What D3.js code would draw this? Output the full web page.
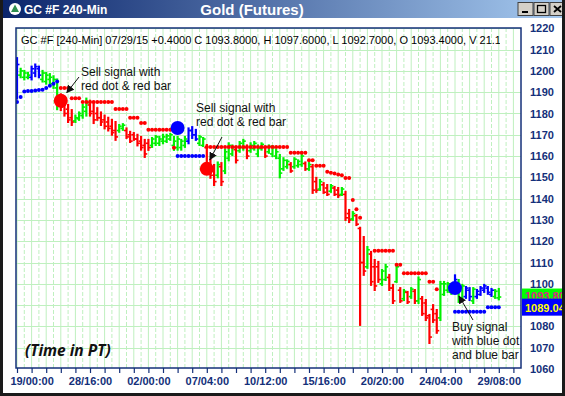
<!DOCTYPE html>
<html>
<head>
<meta charset="utf-8">
<script src="https://cdn.jsdelivr.net/npm/d3@7"></script>
<style>
  body { margin: 0; background: #fff; }
  svg { display: block; font-family: "Liberation Sans", Arial, sans-serif; }
</style>
</head>
<body>
<script>
// Bar data (4-hour OHLC bars, one entry per bar)
const highs = [1206,1201,1200,1199,1202,1203,1202,1200,1199,1198.5,1197.5,1196,
  1189,1186,1184,1181.6,1179,1180.5,1184,1187,1186,1185,1182.5,1180.5,1179,1178,1177,1176,
  1174.6,1175,1173,1171.4,1170.8,1170,1169,1167.6,1167.6,1168.5,1169.5,1169,1170,1170,1170.4,1169,1169,1167.6,1169,
  1173,1173.6,1172.3,1169.5,1168.5,1165.2,1158.2,1155.8,1157,1156.7,1163,1166,1165,
  1164,1166.6,1167.6,1165,1166,1166.6,1165,1166,1164.3,1165,
  1164.7,1163,1160.5,1159,1158,1156.7,1159,1158,1160.5,1157,
  1156.7,1155.8,1149.8,1148.8,1147.3,1146.4,1146.4,1145.5,1145,1145,
  1143.2,1134.7,1133.7,1132.3,1126.3,1122,1117.3,1115,1111.2,1110.3,
  1106.5,1108.9,1104.2,1099.5,1108.9,1098,1097.1,1096.2,1098,1097.1,
  1103,1093.8,1092.4,1085.4,1090,1087.7,1100.9,1100.9,1100.4,1100,
  1104,1101.8,1099.5,1098.5,1098,1098,1097.1,1098.5,1099.5,1098.5,
  1097.6,1097.1,1097.6];
const lows = [1187,1197,1196,1196.5,1196,1197.5,1197,1195,1194,1194,1192,1182,
  1181.6,1179,1176,1174.6,1176,1177,1178,1179,1179,1175.5,1177,1174.6,1173,1172,1170,1167.6,
  1171.4,1172.3,1168.5,1166.6,1167.6,1165,1163,1159.6,1162.9,1164.3,1165.2,1165.2,1166,1166.6,1167.6,1162.9,1163,1163,1164.3,
  1166,1168.5,1167.6,1165.2,1164.7,1152.6,1149.8,1146.4,1150,1146.4,1152,1158,1160.5,
  1157,1162,1163,1159,1162,1163,1160,1163,1159.6,1161.5,
  1160,1159,1150,1153.5,1154.5,1152.6,1154.5,1155,1155.4,1153.5,
  1153.5,1142.7,1143.2,1144.1,1142.7,1141.7,1143.2,1141.7,1140.8,1141.7,
  1130,1129,1130,1127.6,1080.7,1104.2,1107.5,1099.5,1097.1,1100.9,
  1099.5,1101.8,1097.1,1091,1100.9,1091.5,1092.4,1091,1093.4,1091,
  1091,1085.4,1083,1072.2,1082.1,1077,1083,1094.8,1096.2,1095.3,
  1096,1091.5,1092.4,1093.4,1092.4,1091,1093.4,1094.8,1096.2,1095.3,
  1094.3,1093.4,1092.7];
const opens = [1190,1198,1197,1197,1197,1199,1201,1196,1195,1196,1194,1192,
  1186,1184,1182,1178,1176.5,1177.5,1179,1181,1184,1181,1180,1178,1177,1176,1174,1172,
  1172,1173,1172,1170,1170,1168,1167,1165,1166,1165,1166,1166,1167,1167,1168,1165,1164,1164,1165,
  1167,1172,1170,1166,1165,1164,1156,1153,1151,1155,1153,1159,1161,
  1163,1162.5,1164,1164,1162.5,1163.5,1161,1163.5,1164,1162,
  1161,1160,1159,1154,1155,1156,1155,1155.5,1156,1156.5,
  1154,1155,1148,1144.5,1146.5,1145,1143.5,1145,1144,1142,
  1142,1133,1130.5,1132,1126,1110,1108,1114,1108,1108,
  1100,1102,1103,1098,1101,1097,1093,1096,1094,1096.5,
  1092,1093,1091,1085,1088,1086,1084,1095,1097,1096,
  1097,1099,1093,1094,1097,1092,1094,1095,1097,1098,
  1095,1094,1093.4];
const closes = [1203,1200,1199,1198,1201,1202,1198,1199,1198,1197,1196,1184,
  1183,1180,1177,1176,1178,1180,1183,1185,1180,1177,1178,1176,1174,1173,1171,1169,
  1174,1174.5,1169,1167,1168,1166,1164,1161,1164,1168,1169,1168,1169,1169.5,1170,1167,1168,1167,1168,
  1172,1170,1168,1169,1168,1154,1151,1148,1156,1148,1162,1165,1164,
  1158,1166,1167,1160,1165,1166,1164,1165.5,1160,1164.5,
  1164,1162,1152,1158,1157.5,1153,1158.5,1157.5,1160,1154,
  1156,1144,1144,1148,1143,1142,1146,1142,1141.5,1144.5,
  1131,1130,1133,1128,1110,1106,1116,1101,1099,1102,
  1106,1108,1098,1092,1108,1092,1096.5,1091.5,1097.5,1092,
  1102,1086,1084,1075,1083,1078,1100,1100,1100,1099.5,
  1102,1093,1099,1098,1094,1097.5,1096.5,1098,1099,1096,
  1097,1096.5,1093.8];
// bar colour: g = up, r = sell mode, b = buy mode
const barColors = ("bgggbbbggggg" + "rrrr" + "gggg" + "rrrrrrrr" + "gg" + "rrrrrrr" +
  "gggggggggg" + "bbb" + "gg" + "rrr" + "grggg" + "rggrggggrg" + "gggggrgggr" +
  "grrgrrgrrg" + "rrgrrrgrrr" + "ggrrgrgrgr" + "grrrrrgggg" + "bggbbgbbbb" + "bgg").split("");

// trailing stop dots (null = no dot)
const redStops = [null,null,null,null,null,null,null,null,null,null,null,null,
  1192,1192,1192,1187.2,1187.2,1187.2,
  1185.4,1185.4,1185.4,1185.4,1185.4,1185.4,1185.4,1185.4,1185.4,
  1182.1,1182.1,1182.1,1182.1,1178,1178,1178,1175.5,1175.5,
  1172.3,1172.3,1172.3,1172.3,1172.3,1172.3,1172.3,1163.9,
  null,null,null,null,null,null,null,null,
  1164.3,1164.3,1164.3,1164.3,1164.3,1164.3,1164.3,1164.3,1164.3,1164.3,1164.3,1164.3,
  1164.3,1164.3,1164.3,1164.3,1164.3,1164.3,1164.3,1164.3,1164.3,1164.3,1164.3,
  1161.5,1161.5,1161.5,1161.5,1161.5,1158,1158,1155.4,1155.4,1155.4,
  1152.6,1152.2,1151.8,1151.4,1151,1149.7,1149.7,1139.4,1135,1131,
  null,null,null,
  1115.5,1115.5,1115.5,1115.5,1115.5,1115.5,1109,1109,
  1105,1105,1105,1105,1105,1105,1105,1101,1101,1097.5,
  null,null,null,null,null,null,null,null,null,null,null,null,null,null,null,null,null];
const blueStops = [1185.4,1187.7,1190.3,1190.5,1190.6,1190.8,1191,1191.2,1192,1193,1194,1195,
  null,null,null,null,null,null,null,null,null,null,null,null,null,null,null,null,
  null,null,null,null,null,null,null,null,null,null,null,null,null,null,null,null,
  1160,1160,1160,1160,1160,1160,1160,1160,
  null,null,null,null,null,null,null,null,null,null,null,null,null,null,null,null,null,
  null,null,null,null,null,null,null,null,null,null,null,null,null,null,null,null,null,
  null,null,null,null,null,null,null,null,null,null,null,null,null,null,null,null,null,
  null,null,null,null,null,null,null,null,null,null,null,null,null,null,null,null,null,
  1086.9,1086.9,1086.9,1086.9,1086.9,1086.9,1086.9,1086.9,1086.9,
  1089.04,1089.04,1089.04,1089.04];

// signals
const sellIdx = [12, 52];
const sellPx = [1186, 1154];
const buyIdx = [44, 120];
const buyPx = [1173.2, 1098];

// axis labels (1090 sits under the price boxes, so it gets no label)
const xLabels = ["19/00:00","28/16:00","02/00:00","07/04:00","10/12:00","15/16:00","20/20:00","24/04:00","29/08:00"];
const xLabelIdx = [4, 20, 36, 52, 68, 84, 100, 116, 132];
const yTicks = [1060,1070,1080,1090,1100,1110,1120,1130,1140,1150,1160,1170,1180,1190,1200,1210,1220];
const yLabelTicks = [1060,1070,1080,1100,1110,1120,1130,1140,1150,1160,1170,1180,1190,1200,1210,1220];
const lastClose = 1093.8;
const lastStop = 1089.04;

const W = 565, H = 396;
const plot = {left: 16, right: 521, top: 28, bottom: 368};
const navy = "#14307a";
const colorMap = {g: "#00f000", r: "#ff0000", b: "#0000ff"};

const svg = d3.select("body").append("svg")
    .attr("width", W)
    .attr("height", H);

svg.append("rect").attr("width", W).attr("height", H).attr("fill", "#fff");

const x = d3.scaleLinear().domain([0, 132]).range([17, 498.8]);
const y = d3.scaleLinear().domain([1060, 1220]).range([369, 28.3]);

const defs = svg.append("defs");
defs.append("clipPath").attr("id", "plotClip").append("rect")
    .attr("x", plot.left).attr("y", plot.top)
    .attr("width", plot.right - plot.left).attr("height", plot.bottom - plot.top);
defs.append("clipPath").attr("id", "headClip").append("rect")
    .attr("x", plot.left).attr("y", plot.top).attr("width", 484).attr("height", 30);
// only the top strip of the close-price box shows above the stop box
defs.append("clipPath").attr("id", "closeClip").append("rect")
    .attr("x", 522).attr("y", y(lastClose) - 8.5).attr("width", 45).attr("height", y(lastStop) - y(lastClose));

const grad = defs.append("linearGradient").attr("id", "titleGrad");
grad.append("stop").attr("offset", "0%").attr("stop-color", "#0a246a");
grad.append("stop").attr("offset", "100%").attr("stop-color", "#a6caf0");

const arrow = defs.append("marker").attr("id", "arrowHead")
    .attr("viewBox", "0 0 10 10").attr("refX", 9).attr("refY", 5)
    .attr("markerWidth", 8).attr("markerHeight", 8)
    .attr("markerUnits", "userSpaceOnUse").attr("orient", "auto");
arrow.append("path").attr("d", "M0,0 L10,5 L0,10 z").attr("fill", "#111");

// grid
const grid = svg.append("g").attr("clip-path", "url(#plotClip)");
grid.selectAll(".vgrid")
    .data(d3.range(0, 137, 2))
    .enter().append("line")
    .attr("x1", d => x(d)).attr("x2", d => x(d))
    .attr("y1", plot.top).attr("y2", plot.bottom)
    .attr("stroke", "#bff0bf")
    .attr("stroke-dasharray", d => d % 4 ? "4,2" : null);
grid.selectAll(".hgrid")
    .data(yTicks)
    .enter().append("line")
    .attr("x1", plot.left).attr("x2", plot.right)
    .attr("y1", d => Math.round(y(d)) + 0.5).attr("y2", d => Math.round(y(d)) + 0.5)
    .attr("stroke", "#bff0bf");

// header text
svg.append("text")
    .attr("clip-path", "url(#headClip)")
    .attr("x", 21).attr("y", 44)
    .attr("font-size", 11)
    .attr("fill", "#000")
    .text("GC #F [240-Min] 07/29/15  +0.4000 C 1093.8000, H 1097.6000, L 1092.7000, O 1093.4000, V 21.1000");

// bars
const chart = svg.append("g").attr("clip-path", "url(#plotClip)");
const bars = chart.selectAll(".bar")
    .data(highs.map((h, i) => i))
    .enter().append("g")
    .attr("stroke", i => colorMap[barColors[i]]);
bars.append("line")
    .attr("x1", i => x(i)).attr("x2", i => x(i))
    .attr("y1", i => y(highs[i]) - 1).attr("y2", i => y(lows[i]) + 1)
    .attr("stroke-width", 2.2);
bars.append("line")
    .attr("x1", i => x(i) - 2.5).attr("x2", i => x(i))
    .attr("y1", i => y(opens[i])).attr("y2", i => y(opens[i]))
    .attr("stroke-width", 1.6);
bars.append("line")
    .attr("x1", i => x(i)).attr("x2", i => x(i) + 2.5)
    .attr("y1", i => y(closes[i])).attr("y2", i => y(closes[i]))
    .attr("stroke-width", 1.6);

// stop dots
chart.selectAll(".rstop")
    .data(redStops.map((v, i) => [i, v]).filter(d => d[1] !== null))
    .enter().append("circle")
    .attr("cx", d => x(d[0])).attr("cy", d => y(d[1]))
    .attr("r", 2).attr("fill", "#ff0000");
chart.selectAll(".bstop")
    .data(blueStops.map((v, i) => [i, v]).filter(d => d[1] !== null))
    .enter().append("circle")
    .attr("cx", d => x(d[0])).attr("cy", d => y(d[1]))
    .attr("r", 2).attr("fill", "#0000ff");

// signal dots
chart.selectAll(".sell")
    .data(sellIdx)
    .enter().append("circle")
    .attr("cx", (d, k) => x(d)).attr("cy", (d, k) => y(sellPx[k]))
    .attr("r", 7).attr("fill", "#ff0000");
chart.selectAll(".buy")
    .data(buyIdx)
    .enter().append("circle")
    .attr("cx", (d, k) => x(d)).attr("cy", (d, k) => y(buyPx[k]))
    .attr("r", 7).attr("fill", "#0000ff");

// annotations
const notes = [
  {lines: ["Sell signal with", "red dot & red bar"], tx: 81, ty: 76, from: [79, 77], to: [x(sellIdx[0]) + 6, y(sellPx[0]) - 8]},
  {lines: ["Sell signal with", "red dot & red bar"], tx: 196, ty: 112, from: [222, 137], to: [x(sellIdx[1]) + 3, y(sellPx[1]) - 9]},
  {lines: ["Buy signal", "with blue dot", "and blue bar"], tx: 452, ty: 331, from: [473, 320], to: [x(buyIdx[1]) + 4, y(buyPx[1]) + 8]}
];
notes.forEach(n => {
  const t = svg.append("text").attr("x", n.tx).attr("y", n.ty)
      .attr("font-size", 12).attr("fill", "#111");
  n.lines.forEach((s, k) => t.append("tspan").attr("x", n.tx).attr("dy", k ? 14 : 0).text(s));
  svg.append("line")
      .attr("x1", n.from[0]).attr("y1", n.from[1])
      .attr("x2", n.to[0]).attr("y2", n.to[1])
      .attr("stroke", "#111").attr("stroke-width", 1)
      .attr("marker-end", "url(#arrowHead)");
});

svg.append("text")
    .attr("x", 25).attr("y", 356)
    .attr("font-family", "'Open Sans', sans-serif")
    .attr("font-size", 15.5).attr("font-weight", "bold").attr("font-style", "italic")
    .attr("fill", "#111")
    .text("(Time in PT)");

// frame
svg.append("rect")
    .attr("x", plot.left).attr("y", plot.top)
    .attr("width", plot.right - plot.left).attr("height", plot.bottom - plot.top)
    .attr("fill", "none").attr("stroke", navy).attr("stroke-width", 1.5);

// x axis
const xAxis = d3.axisBottom(x)
    .tickValues(d3.range(0, 137, 4))
    .tickSize(5).tickPadding(4)
    .tickFormat(d => {
      const k = xLabelIdx.indexOf(d);
      return k >= 0 ? xLabels[k] : "";
    });
svg.append("g")
    .attr("transform", "translate(0," + plot.bottom + ")")
    .call(xAxis)
    .call(g => g.select(".domain").remove())
    .call(g => g.selectAll("line").attr("stroke", navy).attr("stroke-width", 1.2))
    .call(g => g.selectAll("text").attr("fill", navy).attr("font-size", 11)
        .attr("font-weight", "bold").attr("font-family", "'Liberation Sans', Arial, sans-serif"));

// y axis on the right
const yAxis = d3.axisRight(y).tickValues(yLabelTicks).tickSize(0).tickPadding(9).tickFormat(d3.format("d"));
svg.append("g")
    .attr("transform", "translate(" + plot.right + ",0)")
    .call(yAxis)
    .call(g => g.select(".domain").remove())
    .call(g => g.selectAll("text").attr("fill", navy).attr("font-size", 11)
        .attr("font-weight", "bold").attr("font-family", "'Liberation Sans', Arial, sans-serif"));

// price boxes on the right axis
svg.append("rect").attr("x", 522).attr("y", y(lastClose) - 8.5).attr("width", 45).attr("height", 17).attr("fill", "#00ff00");
svg.append("text").attr("clip-path", "url(#closeClip)")
    .attr("x", 525).attr("y", y(lastClose) + 2.5).attr("font-size", 11).attr("font-weight", "bold")
    .attr("fill", "#e0208a").text(d3.format(".2f")(lastClose));
svg.append("rect").attr("x", 522).attr("y", y(lastStop) - 8.5).attr("width", 45).attr("height", 17).attr("fill", "#0000ff");
svg.append("text").attr("x", 525).attr("y", y(lastStop) + 4.5).attr("font-size", 11).attr("font-weight", "bold")
    .attr("fill", "#ffff00").text(d3.format(".2f")(lastStop));

// window title bar
svg.append("rect").attr("x", 0).attr("y", 0).attr("width", W).attr("height", 18).attr("fill", "url(#titleGrad)");
svg.append("circle").attr("cx", 15).attr("cy", 9).attr("r", 6).attr("fill", "#fff");
svg.append("path").attr("d", "M15,4.5 L19,12 L11,12 Z").attr("fill", "#2f8f4f");
svg.append("text").attr("x", 24).attr("y", 14).attr("font-size", 12).attr("font-weight", "bold")
    .attr("fill", "#fff").text("GC #F 240-Min");
svg.append("text").attr("x", 252).attr("y", 14.5).attr("text-anchor", "middle")
    .attr("font-size", 15).attr("font-weight", "bold").attr("fill", "#fff").text("Gold (Futures)");

const btns = svg.append("g");
[518, 534, 550].forEach((bx, k) => {
  btns.append("rect").attr("x", bx).attr("y", 2.5).attr("width", 15).attr("height", 13)
      .attr("fill", "#d4d0c8").attr("stroke", "#404040").attr("stroke-width", 1);
  if (k === 0) btns.append("line").attr("x1", bx + 4).attr("x2", bx + 10).attr("y1", 12).attr("y2", 12).attr("stroke", "#000").attr("stroke-width", 2);
  if (k === 1) btns.append("rect").attr("x", bx + 3.5).attr("y", 5.5).attr("width", 8).attr("height", 7).attr("fill", "none").attr("stroke", "#000").attr("stroke-width", 1.3);
  if (k === 2) btns.append("path").attr("d", `M${bx + 4},6 L${bx + 11},12 M${bx + 11},6 L${bx + 4},12`).attr("stroke", "#000").attr("stroke-width", 1.8);
});

// window borders
svg.append("rect").attr("x", 0).attr("y", 0).attr("width", 3).attr("height", H).attr("fill", "#1a1a1a");
svg.append("rect").attr("x", 562).attr("y", 0).attr("width", 3).attr("height", H).attr("fill", "#1a1a1a");
svg.append("rect").attr("x", 0).attr("y", 393).attr("width", W).attr("height", 3).attr("fill", "#1a1a1a");
</script>
</body>
</html>
